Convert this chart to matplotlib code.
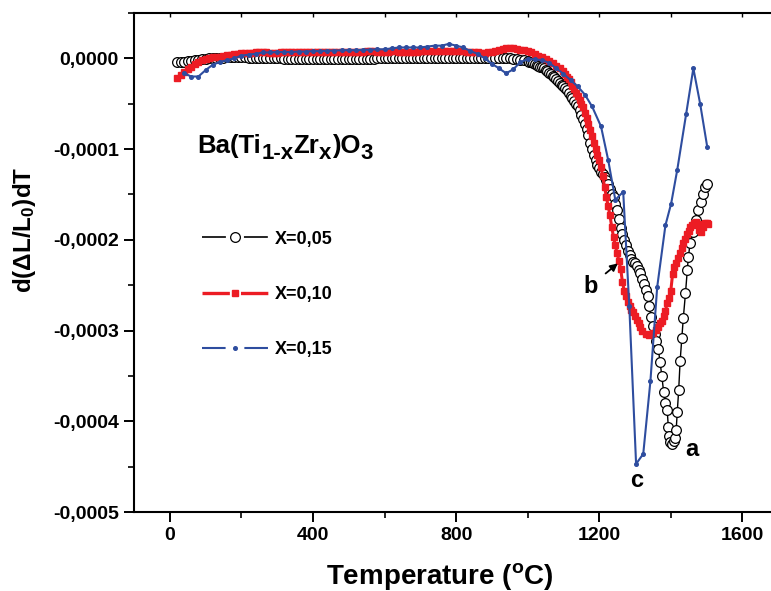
import matplotlib
matplotlib.use('agg')
from matplotlib import pyplot as plt
from matplotlib.lines import Line2D
from matplotlib.ticker import FuncFormatter, MultipleLocator

# X=0,05 (open circles)
temp_a = [20, 30, 40, 50, 60, 70, 80, 90, 100, 110, 120, 130, 140, 150, 160, 170, 180, 190,
          200, 210, 220, 230, 240, 250, 260, 270, 280, 290, 300, 310, 320, 330, 340, 350, 360,
          370, 380, 390, 400, 410, 420, 430, 440, 450, 460, 470, 480, 490, 500, 510, 520, 530,
          540, 550, 560, 570, 580, 590, 600, 610, 620, 630, 640, 650, 660, 670, 680, 690, 700,
          710, 720, 730, 740, 750, 760, 770, 780, 790, 800, 810, 820, 830, 840, 850, 860, 870,
          880, 890, 900, 910, 920, 930, 940, 950, 960, 970, 980, 990, 1000,
          1005, 1010, 1015, 1020, 1025, 1030, 1035, 1040, 1045, 1050, 1055, 1060, 1065, 1070,
          1075, 1080, 1085, 1090, 1095, 1100, 1105, 1110, 1115, 1120, 1125, 1130, 1135, 1140,
          1145, 1150, 1155, 1160, 1165, 1170, 1175, 1180, 1185, 1190, 1195, 1200, 1205, 1210,
          1215, 1220, 1225, 1230, 1235, 1240, 1245, 1250, 1255, 1260, 1265, 1270, 1275, 1280,
          1285, 1290, 1295, 1300, 1305, 1310, 1315, 1320, 1325, 1330, 1335, 1340, 1345, 1350,
          1355, 1360, 1365, 1370, 1375, 1380, 1385, 1390, 1393, 1396, 1399, 1404, 1408,
          1412, 1415, 1418, 1422, 1426, 1431, 1435, 1441, 1446, 1449, 1454, 1463, 1471, 1477,
          1484, 1490, 1496, 1502]
dl_a = [-4.5, -4.0, -3.5, -3.0, -2.5, -2.0, -1.5, -1.0, -0.5, 0.0, 0.0, 0.5, 0.5, 0.5, 1.0, 1.0,
        1.0, 1.0, 1.0, 1.0, 0.5, 0.5, 0.5, 0.5, 0.0, 0.0, 0.0, 0.0, 0.0, 0.0, -0.5, -0.5, -0.5,
        -0.5, -0.5, -1.0, -1.0, -1.0, -1.0, -1.0, -1.0, -1.0, -1.0, -1.0, -1.0, -1.0, -1.0,
        -1.0, -1.0, -1.0, -0.5, -0.5, -0.5, -0.5, -0.5, -0.5, 0.0, 0.0, 0.0, 0.0, 0.0, 0.0,
        0.0, 0.0, 0.0, 0.0, 0.0, 0.0, 0.0, 0.0, 0.5, 0.5, 0.5, 0.5, 0.5, 0.5, 0.5, 0.5, 0.5,
        0.5, 0.5, 0.0, 0.0, 0.0, 0.0, 0.0, 0.0, 0.0, 0.0, 0.0, 0.0, 0.0, 0.0, 0.0, -0.5, -1.0,
        -1.5, -2.0, -3.0,
        -4.0, -4.5, -5.5, -6.0, -7.0, -8.0, -9.0, -10.0, -11.0, -13.0, -14.0, -16.0, -17.0,
        -19.0, -21.0, -23.0, -25.0, -27.0, -29.0, -31.0, -33.0, -35.0, -38.0, -41.0, -44.0,
        -47.0, -50.0, -53.0, -57.0, -62.0, -67.0, -72.0, -78.0, -85.0, -93.0, -100.0, -106.0,
        -112.0, -117.0, -121.0, -125.0, -128.0, -131.0, -134.0, -139.0, -144.0, -149.0,
        -153.0, -160.0, -167.0, -177.0, -187.0, -194.0, -200.0, -206.0, -212.0, -217.0,
        -221.0, -224.0, -226.0, -229.0, -233.0, -237.0, -243.0, -249.0, -255.0, -262.0,
        -273.0, -285.0, -295.0, -304.0, -312.0, -320.0, -335.0, -350.0, -368.0, -380.0,
        -388.0, -406.0, -416.0, -423.0, -425.0, -422.0,
        -418.0, -410.0, -390.0, -366.0, -334.0, -308.0, -286.0, -259.0, -233.0, -219.0,
        -204.0, -191.0, -178.0, -167.0, -158.0, -149.0, -142.0, -138.0]

# X=0,10 (filled squares)
temp_b = [20, 30, 40, 50, 60, 70, 80, 90, 100, 110, 120, 130, 140, 150, 160, 170, 180, 190,
          200, 210, 220, 230, 240, 250, 260, 270, 280, 290, 300, 310, 320, 330, 340, 350, 360,
          370, 380, 390, 400, 410, 420, 430, 440, 450, 460, 470, 480, 490, 500, 510, 520, 530,
          540, 550, 560, 570, 580, 590, 600, 610, 620, 630, 640, 650, 660, 670, 680, 690, 700,
          710, 720, 730, 740, 750, 760, 770, 780, 790, 800, 810, 820, 830, 840, 850, 860, 870,
          880, 890, 900, 910, 920, 930, 940, 950, 960, 970, 980, 990, 1000, 1010, 1020, 1030,
          1040, 1050, 1060, 1070, 1080, 1090,
          1100, 1105, 1110, 1115, 1120, 1125, 1130, 1135, 1140, 1145, 1150, 1155, 1160, 1165,
          1170, 1175, 1180, 1185, 1190, 1195, 1200, 1205, 1210, 1215, 1220, 1225, 1230, 1235,
          1240, 1245, 1250, 1255, 1260, 1265, 1270, 1275, 1280, 1285, 1290, 1295, 1300, 1305,
          1310, 1315, 1320, 1330, 1340, 1350, 1360, 1365, 1370, 1375, 1380, 1385, 1390, 1395,
          1400, 1405, 1410, 1415, 1420, 1425, 1430, 1435, 1440, 1445, 1450, 1455, 1460, 1465,
          1470, 1475, 1480, 1485, 1490, 1495, 1500, 1505]
dl_b = [-22.0, -18.0, -15.0, -12.0, -9.0, -6.0, -4.0, -2.0, -1.0, 0.0, 1.0, 1.0, 2.0, 3.0,
        4.0, 4.0, 5.0, 5.0, 6.0, 6.0, 6.0, 6.0, 6.5, 6.5, 6.5, 6.5, 6.0, 6.0, 6.0, 6.5, 6.5,
        6.5, 6.5, 6.5, 7.0, 7.0, 6.5, 6.5, 6.5, 7.0, 7.0, 7.0, 7.0, 7.0, 7.0, 7.5, 7.5, 7.5,
        7.0, 7.0, 7.0, 7.5, 7.5, 8.0, 8.0, 8.0, 7.5, 7.5, 7.5, 7.5, 8.0, 8.0, 7.5, 7.0, 7.0,
        7.0, 7.5, 7.5, 8.0, 8.0, 8.0, 8.5, 8.5, 8.0, 8.0, 8.0, 8.0, 8.0, 8.5, 8.5, 8.0, 7.5,
        7.0, 6.5, 6.5, 6.0, 6.0, 6.5, 7.0, 8.0, 9.0, 10.0, 11.0, 11.0, 11.0, 10.0, 9.5, 9.0,
        8.5, 7.0, 5.0, 3.0, 1.0, -1.0, -3.0, -5.5, -8.0, -11.0,
        -14.0, -17.0, -20.0, -23.0, -26.0, -30.0, -34.0, -38.0, -42.0, -46.0, -50.0, -54.0,
        -60.0, -66.0, -72.0, -79.0, -86.0, -93.0, -100.0, -106.0, -112.0, -120.0, -130.0,
        -142.0, -153.0, -163.0, -173.0, -186.0, -197.0, -206.0, -215.0, -223.0, -232.0,
        -247.0, -256.0, -262.0, -268.0, -273.0, -277.0, -280.0, -284.0, -288.0, -292.0,
        -296.0, -300.0, -304.0, -305.0, -303.0, -299.0, -296.0, -292.0, -289.0, -284.0,
        -278.0, -270.0, -264.0, -256.0, -238.0, -230.0, -225.0, -220.0, -214.0, -209.0,
        -204.0, -199.0, -194.0, -190.0, -186.0, -184.0, -181.0, -180.0, -183.0, -189.0,
        -191.0, -186.0, -182.0, -181.0, -183.0]

# X=0,15 (line with small dots)
temp_c = [40, 60, 80, 100, 120, 140, 160, 180, 200, 220, 240, 260, 280, 300, 320, 340, 360,
          380, 400, 420, 440, 460, 480, 500, 520, 540, 560, 580, 600, 620, 640, 660, 680, 700,
          720, 740, 760, 780, 800, 820, 840, 860, 880, 900, 920, 940, 960, 980, 1000, 1020,
          1040, 1060, 1080, 1100, 1120, 1140, 1160, 1180, 1205, 1225, 1245, 1267, 1284, 1303,
          1323, 1343, 1362, 1385, 1401, 1418, 1443, 1463, 1482, 1502]
dl_c = [-16.5, -20.0, -20.0, -13.0, -7.0, -4.0, -2.0, 0.0, 3.0, 4.0, 5.0, 6.5, 6.5, 7.0, 7.0,
        7.0, 7.5, 7.5, 8.0, 8.0, 8.5, 8.5, 9.0, 9.0, 9.0, 9.5, 9.5, 10.0, 10.0, 11.0, 12.0,
        12.0, 12.0, 12.0, 13.0, 14.0, 14.0, 16.0, 14.0, 12.0, 8.0, 5.0, 0.0, -6.0, -11.0,
        -16.5, -12.0, -4.0, -1.0, -1.0, -2.0, -5.0, -11.0, -17.0, -24.0, -31.0, -40.0, -53.0,
        -75.0, -112.0, -156.0, -147.0, -273.0, -447.0, -436.0, -356.0, -252.0, -184.0,
        -160.0, -123.0, -61.0, -11.0, -50.0, -98.0]

SCALE = 1e-6  # values above are in units of 1e-6

RED = '#ec1c24'
BLUE = '#2e4d9f'

plt.rcParams['font.family'] = ['Liberation Sans', 'DejaVu Sans']
plt.rcParams['font.weight'] = 'bold'
plt.rcParams['mathtext.fontset'] = 'custom'
plt.rcParams['mathtext.rm'] = 'Liberation Sans:bold'
plt.rcParams['mathtext.it'] = 'Liberation Sans:bold'
plt.rcParams['mathtext.bf'] = 'Liberation Sans:bold'
plt.rcParams['lines.scale_dashes'] = False

fig = plt.figure(figsize=(7.71, 5.91), dpi=100)
ax = fig.add_axes([134 / 771, 1 - 512 / 591, (771 - 134) / 771, (512 - 13) / 591])

ya = [v * SCALE for v in dl_a]
yb = [v * SCALE for v in dl_b]
yc = [v * SCALE for v in dl_c]

ax.plot(temp_a, ya, color='black', lw=1.0, marker='o', ms=7, mfc='white',
        mec='black', mew=0.9, zorder=2)
ax.plot(temp_b, yb, color=RED, lw=2.2, marker='s', ms=5, mec=RED, mfc=RED, zorder=3)
ax.plot(temp_c, yc, color=BLUE, lw=1.5, marker='o', ms=2.6, mec=BLUE, mfc=BLUE, zorder=4)

ax.set_xlim(-100, 1680)
ax.set_ylim(-0.0005, 0.00005)
ax.xaxis.set_major_locator(MultipleLocator(400))
ax.xaxis.set_minor_locator(MultipleLocator(200))
ax.yaxis.set_major_locator(MultipleLocator(0.0001))
ax.yaxis.set_minor_locator(MultipleLocator(0.00005))


def comma_fmt(v, pos):
    if abs(v) < 1e-12:
        v = 0.0
    return f"{v:.4f}".replace('.', ',')


ax.yaxis.set_major_formatter(FuncFormatter(comma_fmt))

for side in ['left', 'bottom', 'top']:
    ax.spines[side].set_linewidth(1.5)
ax.spines['right'].set_visible(False)
ax.tick_params(which='major', direction='out', length=7, width=1.4, labelsize=14, pad=4)
ax.tick_params(which='minor', direction='out', length=4, width=1.2)

top = ax.secondary_xaxis('top')
top.set_xticks(range(0, 1700, 200))
top.tick_params(direction='in', length=3, width=1.0, labeltop=False)
top.spines['top'].set_visible(False)

ax.set_xlabel('Temperature ($^{\\mathrm{o}}$C)', fontsize=20, fontweight='bold')
ax.xaxis.set_label_coords(0.480, -0.098)
ax.set_ylabel('d(ΔL/L$_0$)dT', fontsize=17.5, fontweight='bold')
ax.yaxis.set_label_coords(-0.150, 0.565)

# composition label, written piece by piece so subscripts stay large
t = ax.text(78, -0.0001046, 'Ba(Ti', fontsize=18.5, va='baseline', ha='left')


def chain(prev, s, size, dy):
    return ax.annotate(s, xy=(1, 0), xycoords=prev, xytext=(0, dy),
                       textcoords='offset points', fontsize=size,
                       va='bottom', ha='left')


t = chain(t, '1-x', 16, -4)
t = chain(t, 'Zr', 18.5, 4)
t = chain(t, 'x', 16, -4)
t = chain(t, ')O', 18.5, 4)
t = chain(t, '3', 16, -4)

ax.text(1460, -0.000431, 'a', fontsize=17, ha='center', va='center')
ax.text(1306, -0.000465, 'c', fontsize=17, ha='center', va='center')
ax.annotate('b', xy=(1252, -0.000226), xytext=(1175, -0.000251), fontsize=17,
            ha='center', va='center',
            arrowprops=dict(arrowstyle='-|>', color='black', lw=1.3,
                            mutation_scale=11, shrinkA=5, shrinkB=0))

h_a = Line2D([], [], color='black', lw=1.2, ls=(0, (17.2, 13)), marker='o', ms=7,
             mfc='white', mec='black', mew=0.9)
h_b = Line2D([], [], color=RED, lw=2.4, ls=(0, (19.7, 8)), marker='s', ms=4.6,
             mfc=RED, mec=RED)
h_c = Line2D([], [], color=BLUE, lw=1.5, ls=(0, (17, 13.5)), marker='o', ms=2.6,
             mfc=BLUE, mec=BLUE)
ax.legend([h_a, h_b, h_c], ['X=0,05', 'X=0,10', 'X=0,15'], loc='center left',
          bbox_to_anchor=(0.1068, 0.436), frameon=False, fontsize=13,
          handlelength=3.65, handletextpad=0.4, labelspacing=2.12,
          borderpad=0, borderaxespad=0, numpoints=1)

fig.savefig('out.png', dpi=100)
